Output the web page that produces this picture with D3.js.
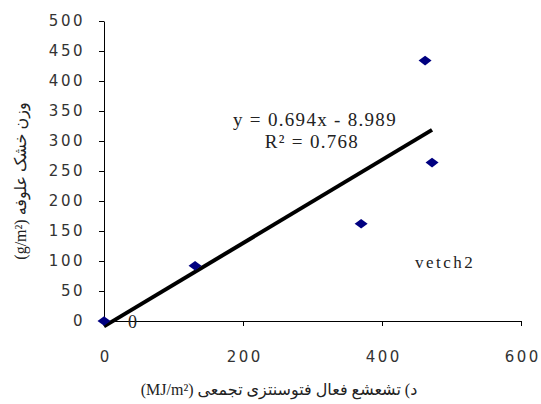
<!DOCTYPE html>
<html><head><meta charset="utf-8">
<script src="https://cdn.jsdelivr.net/npm/d3@7"></script>
<style>body{margin:0;background:#fff}</style>
</head><body>
<script>
const xValues = [0, 131, 370, 462, 472];
const yValues = [0, 92, 162, 434, 264];
const xTicks = [0, 200, 400, 600];
const yTicks = [0, 50, 100, 150, 200, 250, 300, 350, 400, 450, 500];
const slope = 0.694, intercept = -8.989;
const eqText = "y = 0.694x - 8.989";
const r2Text = "R² = 0.768";
const seriesLabel = "vetch2";
const pointLabel = "0";
const xTitle = "د) تشعشع فعال فتوسنتزی تجمعی (MJ/m²)";
const yTitle = "وزن خشک علوفه (g/m²)";

const W = 541, H = 404;
const svg = d3.select("body").append("svg").attr("width", W).attr("height", H);
const x = d3.scaleLinear().domain([0, 600]).range([104, 521]);
const y = d3.scaleLinear().domain([0, 500]).range([321, 21]);

const tickFont = "DejaVu Sans, Verdana, sans-serif";
const xAxis = d3.axisBottom(x).tickValues(xTicks).tickSize(5).tickPadding(25).tickSizeOuter(0);
const yAxis = d3.axisLeft(y).tickValues(yTicks).tickSize(5).tickPadding(14).tickSizeOuter(0);
const gx = svg.append("g").attr("transform", `translate(0,${y(0)})`).call(xAxis);
const gy = svg.append("g").attr("transform", `translate(${x(0)},0)`).call(yAxis);
[gx, gy].forEach(g => {
  g.selectAll("path,line").attr("stroke", "#000").attr("stroke-width", 1);
  g.selectAll("text").attr("font-family", tickFont).attr("font-size", 15)
    .attr("letter-spacing", "2.5px").attr("fill", "#333");
});
gx.selectAll("text").attr("dx", "1.25px");

// trendline
const xMin = d3.min(xValues), xMax = d3.max(xValues);
svg.append("line")
  .attr("x1", x(xMin)).attr("y1", y(slope * xMin + intercept))
  .attr("x2", x(xMax)).attr("y2", y(slope * xMax + intercept))
  .attr("stroke", "#000").attr("stroke-width", 4);

// points (flat diamond markers)
const flatDiamond = {
  draw(ctx, size) {
    const w = 6.5, h = 4.8;
    ctx.moveTo(0, -h); ctx.lineTo(w, 0); ctx.lineTo(0, h); ctx.lineTo(-w, 0); ctx.closePath();
  }
};
const sym = d3.symbol().type(flatDiamond);
svg.selectAll(".pt").data(xValues.map((v, i) => [v, yValues[i]])).enter()
  .append("path").attr("d", sym)
  .attr("transform", d => `translate(${x(d[0])},${y(d[1])})`)
  .attr("fill", "#000080");

const serif = "Liberation Serif, Times New Roman, serif";
svg.append("text").attr("x", 315).attr("y", 126).attr("text-anchor", "middle")
  .attr("font-family", serif).attr("font-size", 19).attr("letter-spacing", "1.3px").attr("fill", "#222").text(eqText);
svg.append("text").attr("x", 312).attr("y", 148).attr("text-anchor", "middle")
  .attr("font-family", serif).attr("font-size", 19).attr("letter-spacing", "1.3px").attr("fill", "#222").text(r2Text);
svg.append("text").attr("x", 415).attr("y", 268)
  .attr("font-family", serif).attr("font-size", 17).attr("letter-spacing", "2.5px").attr("fill", "#222").text(seriesLabel);
svg.append("text").attr("x", 128).attr("y", 328)
  .attr("font-family", serif).attr("font-size", 18).attr("fill", "#222").text(pointLabel);

const titleFont = "Liberation Serif, DejaVu Sans, serif";
svg.append("text").attr("x", 279).attr("y", 395).attr("text-anchor", "middle")
  .attr("direction", "rtl").attr("unicode-bidi", "embed")
  .attr("font-family", titleFont).attr("font-size", 16).attr("fill", "#222").text(xTitle);
svg.append("text").attr("transform", "translate(26,181) rotate(-90)").attr("text-anchor", "middle")
  .attr("direction", "rtl").attr("unicode-bidi", "embed")
  .attr("font-family", titleFont).attr("font-size", 16).attr("fill", "#222").text(yTitle);
</script>
</body></html>
